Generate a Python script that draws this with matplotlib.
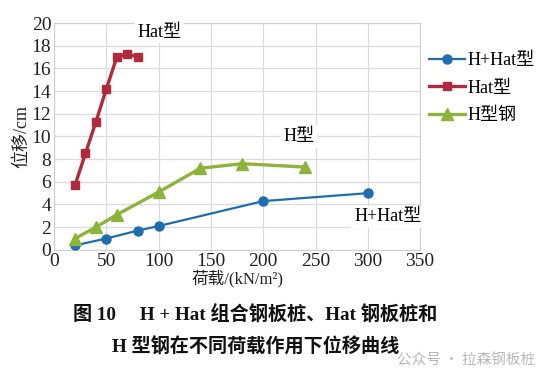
import numpy as np
import matplotlib
matplotlib.use("Agg")
import matplotlib.pyplot as plt

plt.rcParams['font.family'] = ['Liberation Serif', 'Noto Sans CJK SC']

# data
x_hhat = [20, 50, 80, 100, 200, 300]
y_hhat = [0.4, 1.0, 1.7, 2.1, 4.3, 5.0]
x_hat = [20, 30, 40, 50, 60, 70, 80]
y_hat = [5.7, 8.5, 11.3, 14.2, 17.0, 17.3, 17.0]
x_h = [20, 40, 60, 100, 140, 180, 240]
y_h = [1.0, 2.0, 3.1, 5.1, 7.2, 7.6, 7.3]
labels = ["H+Hat型", "Hat型", "H型钢"]

c_blue = "#1f6db0"
c_red = "#b02a3c"
c_green = "#8cb43a"

fig = plt.figure(figsize=(5.52, 3.78), dpi=100)
ax = fig.add_axes([0.098, 0.339, 0.663, 0.600])

ax.plot(x_hhat, y_hhat, color=c_blue, lw=1.6, marker="o", ms=6.5, label=labels[0], zorder=3)
ax.plot(x_hat, y_hat, color=c_red, lw=2.4, marker="s", ms=5.5, label=labels[1], zorder=3)
ax.plot(x_h, y_h, color=c_green, lw=2.4, marker="^", ms=8, label=labels[2], zorder=3)

ax.set_xlim(0, 350)
ax.set_ylim(0, 20)
ax.set_xticks(np.arange(0, 351, 50))
ax.set_yticks(np.arange(0, 21, 2))
ax.grid(True, color="#dcdcdc", lw=0.9)
ax.set_axisbelow(True)
for s in ax.spines.values():
    s.set_color("#cfcfcf")
ax.tick_params(length=0, labelsize=14, pad=2, colors="#222222")

ax.set_xlabel("荷载/(kN/m²)", fontsize=12, labelpad=0, color="#222222")
ax.set_ylabel("位移/cm", fontsize=13, labelpad=1, color="#222222")

box = dict(facecolor="white", edgecolor="none", pad=2)
ax.text(101, 19.2, "Hat型", fontsize=13, ha="center", va="center", bbox=box)
ax.text(234, 10.0, "H型", fontsize=13, ha="center", va="center", bbox=box)
ax.text(319, 2.9, "H+Hat型", fontsize=13, ha="center", va="center", bbox=box)

ax.legend(loc="upper left", bbox_to_anchor=(1.005, 0.905), frameon=False,
          fontsize=13, handlelength=2.0, handletextpad=0.1, labelspacing=0.6,
          borderaxespad=0)

fig.text(0.463, 0.170, "图 10　 H + Hat 组合钢板桩、Hat 钢板桩和", fontsize=13.8,
         fontweight="bold", ha="center", va="center", color="#111111")
fig.text(0.463, 0.083, "H 型钢在不同荷载作用下位移曲线", fontsize=13.8,
         fontweight="bold", ha="center", va="center", color="#111111")
fig.text(0.845, 0.045, "公众号 · 拉森钢板桩", fontsize=10.5, ha="center", va="center",
         color="#b8b8b8", family=["Noto Sans CJK SC", "DejaVu Sans"])

fig.savefig("out.png", dpi=100)
